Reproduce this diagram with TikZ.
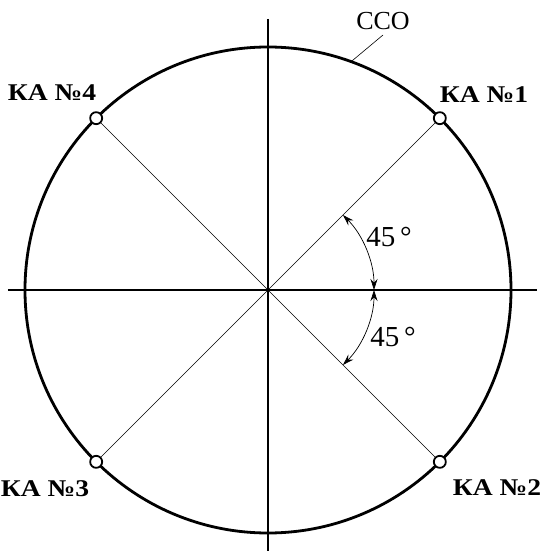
\documentclass[tikz,border=0pt]{standalone}
\usepackage{fontspec}
\setmainfont{Liberation Serif}
\usetikzlibrary{arrows.meta}
\tikzset{
    orbit/.style={line width=2.8pt},
    axis/.style={line width=2.2pt},
    sat/.style={circle, draw, fill=white, line width=1.8pt, inner sep=0pt, minimum size=12pt},
    satlabel/.style={font=\fontsize{24}{28}\selectfont\bfseries, xscale=1.15},
    anglabel/.style={font=\fontsize{29}{34}\selectfont},
    tip/.style={{Stealth[length=11pt,width=7pt]}-{Stealth[length=11pt,width=7pt]}},
}
\begin{document}
\begin{tikzpicture}[x=1pt, y=1pt]
    \useasboundingbox (-268,-261) rectangle (273,290);
    \draw[axis] (-260,0) -- (269,0);
    \draw[axis] (0,271) -- (0,-261);
    \draw[orbit] (0,0) circle (243);
    \node[sat] (ka1) at (45:243) {};
    \node[sat] (ka2) at (-45:243) {};
    \node[sat] (ka3) at (-135:243) {};
    \node[sat] (ka4) at (135:243) {};
    \draw[line width=0.6pt] (ka1) -- (ka3);
    \draw[line width=0.6pt] (ka4) -- (ka2);
    \node[satlabel] (l1) at (216,195) {КА №1};
    \node[satlabel] (l2) at (229,-198) {КА №2};
    \node[satlabel] (l3) at (-223,-199) {КА №3};
    \node[satlabel] (l4) at (-216,197) {КА №4};
    % orbit label with leader
    \node[font=\fontsize{26}{30}\selectfont] (sso) at (115,269) {ССО};
    \coordinate (ssoend) at (70:243);
    \draw[line width=0.6pt] (ssoend) -- (115,255);
    % angles
    \draw[line width=0.7pt, tip] (45:106) arc (45:0:106);
    \draw[line width=0.7pt, tip] (0:106) arc (0:-45:106);
    \node[anglabel] (a1) at (121,53) {45\,°};
    \node[anglabel] (a2) at (125,-47) {45\,°};
\end{tikzpicture}
\end{document}
